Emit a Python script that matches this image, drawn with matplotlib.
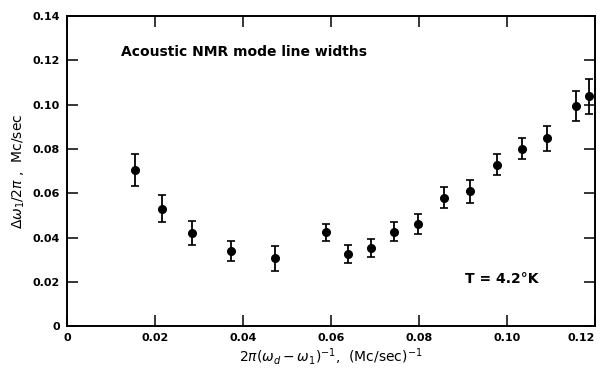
import matplotlib.pyplot as plt
import numpy as np

# data
x = [0.0155, 0.0216, 0.0283, 0.0373, 0.0473, 0.0589, 0.0638, 0.0691, 0.0742,
     0.0798, 0.0856, 0.0915, 0.0977, 0.1033, 0.1090, 0.1156, 0.1186]
y = [0.0705, 0.0530, 0.0420, 0.0339, 0.0307, 0.0423, 0.0327, 0.0354, 0.0427,
     0.0462, 0.0580, 0.0610, 0.0729, 0.0801, 0.0848, 0.0994, 0.1037]
yerr = [0.0073, 0.0060, 0.0053, 0.0047, 0.0057, 0.0037, 0.0040, 0.0040, 0.0041,
        0.0046, 0.0047, 0.0052, 0.0048, 0.0047, 0.0056, 0.0069, 0.0081]

xticks = [0, 0.02, 0.04, 0.06, 0.08, 0.10, 0.12]
xlabels = ["0", "0.02", "0.04", "0.06", "0.08", "0.10", "0.12"]
yticks = [0, 0.02, 0.04, 0.06, 0.08, 0.10, 0.12, 0.14]
ylabels = ["0", "0.02", "0.04", "0.06", "0.08", "0.10", "0.12", "0.14"]

plt.rcParams['font.family'] = ['DejaVu Sans']
plt.rcParams['mathtext.fontset'] = 'dejavusans'

fig = plt.figure(figsize=(6.03, 3.74), dpi=100)
ax = fig.add_axes([0.111, 0.128, 0.876, 0.829])

ax.errorbar(x, y, yerr=yerr, fmt='o', color='black', ms=5.5, capsize=3,
            elinewidth=1.3, capthick=1.2)

ax.set_xlim(0, 0.12)
ax.set_ylim(0, 0.14)
ax.set_xticks(xticks)
ax.set_xticklabels(xlabels, fontsize=8, fontweight='bold')
ax.get_xticklabels()[-1].set_horizontalalignment('right')
ax.get_xticklabels()[-1].set_x(0.1205)
ax.set_yticks(yticks)
ax.set_yticklabels(ylabels, fontsize=8, fontweight='bold')
ax.tick_params(direction='in', length=8, width=1.1, top=True, right=True, pad=5)
for s in ax.spines.values():
    s.set_linewidth(1.4)

ax.set_xlabel(r"$2\pi(\omega_d-\omega_1)^{-1}$,  (Mc/sec)$^{-1}$", fontsize=10, labelpad=2)
ax.set_ylabel(r"$\Delta\omega_1/2\pi$ ,  Mc/sec", fontsize=10, labelpad=4)

ax.text(0.0122, 0.124, "Acoustic NMR mode line widths", fontsize=10, fontweight='bold',
        va='center', ha='left')
ax.text(0.0905, 0.0215, "T = 4.2°K", fontsize=10, fontweight='bold', va='center', ha='left')

fig.savefig("out.png", dpi=100)
